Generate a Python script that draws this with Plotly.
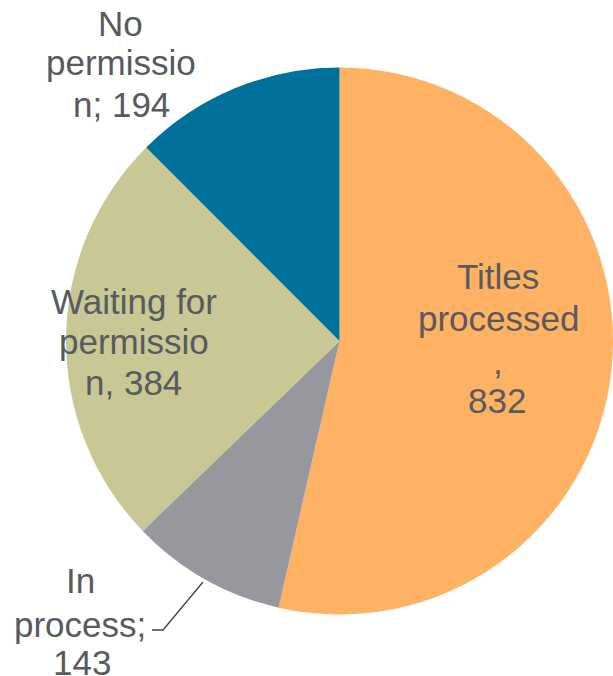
import plotly.graph_objects as go

# 数据
labels = ["Titles processed", "In process", "Waiting for permission", "No permission"]
values = [832, 143, 384, 194]
colors = ["#FFB264", "#96989D", "#C9C794", "#00719A"]

# 标签文字（按参考图的换行方式）
label_lines = [
    ["Titles", "processed", ",", "832"],
    ["In", "process;", "143"],
    ["Waiting for", "permissio", "n, 384"],
    ["No", "permissio", "n; 194"],
]
# 每行中心位置（像素）
label_pos = [
    [(498, 277), (498, 318), (498, 361), (497, 400)],
    [(80, 580), (80, 624), (82, 662)],
    [(134, 301), (134, 341), (133, 383)],
    [(120, 23), (121, 63), (121, 104)],
]

W, H = 613, 676
TEXT_COLOR = "#575A5F"

fig = go.Figure(
    go.Pie(
        labels=labels,
        values=values,
        sort=False,
        direction="clockwise",
        rotation=0,
        marker=dict(colors=colors, line=dict(width=0)),
        textinfo="none",
        hoverinfo="label+value",
        showlegend=False,
        domain=dict(x=[66 / W, 1.0], y=[1 - 615 / H, 1 - 67 / H]),
    )
)

annotations = []
for lines, pos in zip(label_lines, label_pos):
    for txt, (px_, py_) in zip(lines, pos):
        annotations.append(dict(
            text=txt, x=px_ / W, y=1 - py_ / H, xref="paper", yref="paper",
            xanchor="center", yanchor="middle", showarrow=False,
            font=dict(family="Liberation Sans, Arial", size=35, color=TEXT_COLOR),
        ))

# 引导线（In process）
pts = [(152, 630), (163, 630), (203, 582)]
path = "M " + " L ".join(f"{x / W},{1 - y / H}" for x, y in pts)

fig.update_layout(
    width=W, height=H,
    margin=dict(l=0, r=0, t=0, b=0),
    paper_bgcolor="#FFFFFF",
    plot_bgcolor="#FFFFFF",
    annotations=annotations,
    shapes=[dict(type="path", path=path, xref="paper", yref="paper",
                 line=dict(color="#404040", width=1.3))],
)

# 去掉页面默认的 body 边距，隐藏工具栏
fig.write_html("out.html", config={"displayModeBar": False},
               post_script="document.body.style.margin='0';")
